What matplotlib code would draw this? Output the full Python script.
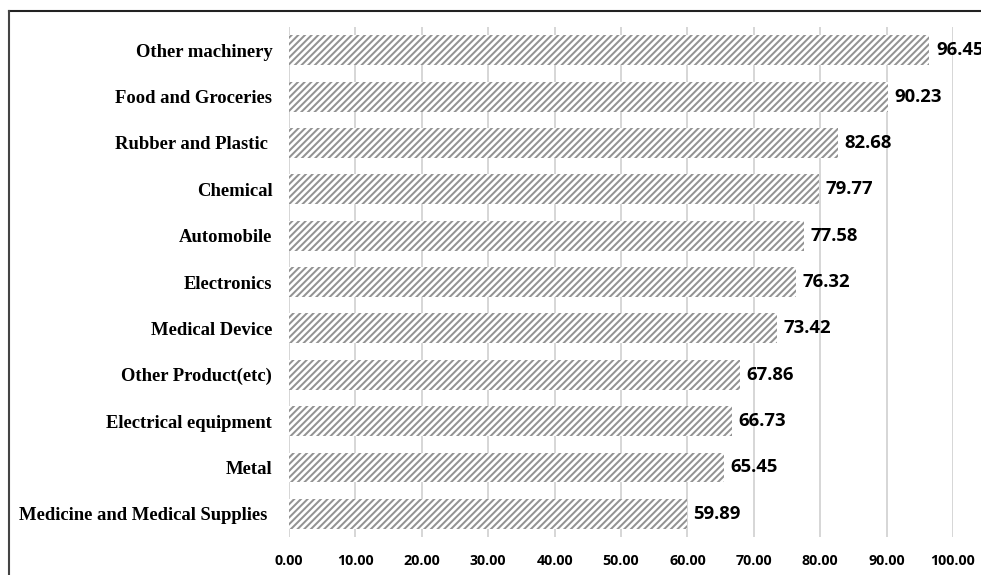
import matplotlib
matplotlib.use("Agg")
import matplotlib.pyplot as plt
from matplotlib.lines import Line2D

# Industry scores, listed top to bottom
industries = [
    "Other machinery",
    "Food and Groceries",
    "Rubber and Plastic ",
    "Chemical",
    "Automobile",
    "Electronics",
    "Medical Device",
    "Other Product(etc)",
    "Electrical equipment",
    "Metal",
    "Medicine and Medical Supplies ",
]
scores = [96.45, 90.23, 82.68, 79.77, 77.58, 76.32, 73.42, 67.86, 66.73, 65.45, 59.89]
x_ticks = [0, 10, 20, 30, 40, 50, 60, 70, 80, 90, 100]

plt.rcParams["hatch.linewidth"] = 1.45

fig = plt.figure(figsize=(9.81, 5.75), dpi=100)
ax = fig.add_axes([0.2946, 0.0661, 0.6769, 0.8869])

ypos = list(range(len(industries)))
bars = ax.barh(ypos, scores, height=0.645, color="white", edgecolor="#939393",
               hatch="/////", linewidth=0, zorder=3)

for y, v in zip(ypos, scores):
    ax.text(v + 1.0, y, f"{v:.2f}", va="center", ha="left",
            fontsize=13.3, fontweight="bold", family=["Open Sans", "DejaVu Sans"],
            color="black", zorder=4, clip_on=False)

ax.set_ylim(len(industries) - 0.5, -0.5)
ax.set_xlim(0, 100)
ax.set_yticks(ypos)
ax.set_yticklabels(industries, family=["Liberation Serif"], fontweight="bold", fontsize=13.4)
ax.set_xticks(x_ticks)
ax.set_xticklabels([f"{t:.2f}" for t in x_ticks], family=["Open Sans", "DejaVu Sans"],
                   fontweight="bold", fontsize=10.3)
ax.tick_params(axis="both", length=0)
ax.tick_params(axis="y", pad=12)
ax.tick_params(axis="x", pad=12)

ax.xaxis.grid(True, color="#d3d3d3", linewidth=1.3, zorder=0)
ax.set_axisbelow(True)
for s in ax.spines.values():
    s.set_visible(False)

# Outer frame edges (top and left)
fig.add_artist(Line2D([9 / 981, 1.0], [1 - 11 / 575, 1 - 11 / 575],
                      transform=fig.transFigure, color="#222222", linewidth=1.5))
fig.add_artist(Line2D([9 / 981, 9 / 981], [0.0, 1 - 11 / 575],
                      transform=fig.transFigure, color="#444444", linewidth=1.5))

fig.savefig("out.png", dpi=100)
